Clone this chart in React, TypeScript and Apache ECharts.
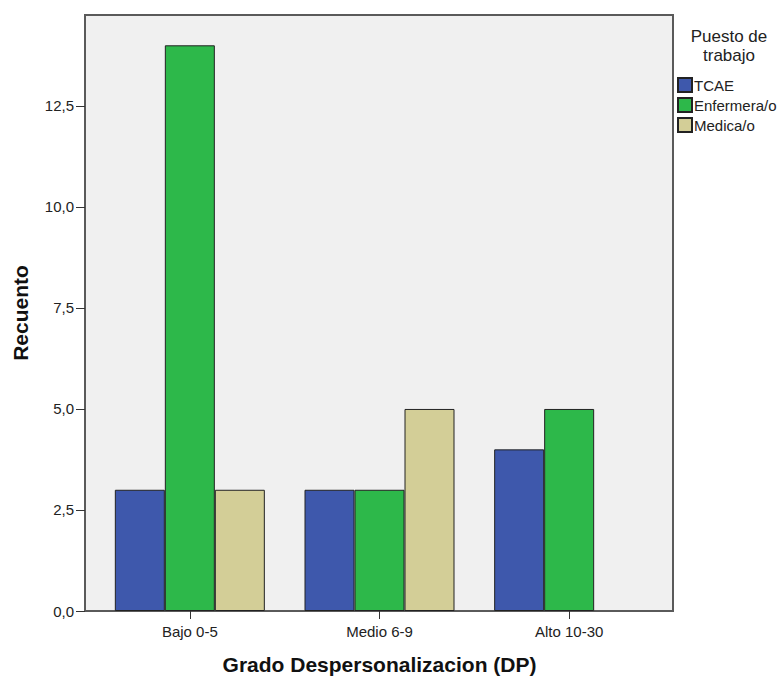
import React, { useEffect, useRef } from "react";
import * as echarts from "echarts";

const categories = ["Bajo 0-5", "Medio 6-9", "Alto 10-30"];
const seriesNames = ["TCAE", "Enfermera/o", "Medica/o"];
const tcae = [3, 3, 4];
const enfermera = [14, 3, 5];
const medica: (number | null)[] = [3, 5, null];
const colors = ["#3e58ac", "#2db84a", "#d3ce97"];

export default function App() {
  const ref = useRef<HTMLDivElement>(null);
  useEffect(() => {
    if (!ref.current) return;
    const chart = echarts.init(ref.current, undefined, { renderer: "svg" });
    const font = "'Liberation Sans', Arial, sans-serif";
    const mk = (name: string, data: (number | null)[], color: string) => ({
      name,
      type: "bar",
      data,
      barWidth: 50,
      barGap: "0%",
      itemStyle: { color, borderColor: "#222", borderWidth: 1 },
      z: 3,
    });
    chart.setOption({
      animation: false,
      textStyle: { fontFamily: font },
      grid: { left: 95, right: 119, top: 15, bottom: 66, outerBoundsMode: "none", containLabel: false },
      graphic: [
        {
          type: "rect",
          z: 0,
          silent: true,
          shape: { x: 85, y: 15, width: 588, height: 596 },
          style: { fill: "#f0f0f0", stroke: "#5a5a5a", lineWidth: 2 },
        },
        {
          type: "text",
          x: 729,
          y: 27,
          style: {
            text: "Puesto de\ntrabajo",
            font: `17px ${font}`,
            fill: "#222",
            align: "center",
            verticalAlign: "top",
            lineHeight: 19,
          },
        },
      ],
      legend: {
        orient: "vertical",
        left: 677,
        top: 77,
        padding: 0,
        itemWidth: 14,
        itemHeight: 14,
        itemGap: 4,
        icon: "rect",
        data: seriesNames,
        textStyle: { fontFamily: font, fontSize: 15, lineHeight: 16, color: "#222", padding: [0, 0, 0, -3] },
      },
      xAxis: {
        type: "category",
        data: categories,
        name: "Grado Despersonalizacion (DP)",
        nameLocation: "middle",
        nameGap: 43,
        nameTextStyle: { fontFamily: font, fontSize: 21, fontWeight: "bold", color: "#111" },
        axisLine: { show: false },
        axisTick: { show: true, alignWithLabel: true, length: 8, lineStyle: { color: "#333" } },
        axisLabel: { fontSize: 15, color: "#222", margin: 13 },
      },
      yAxis: {
        type: "value",
        min: 0,
        max: 14.75,
        interval: 2.5,
        offset: 10,
        name: "Recuento",
        nameLocation: "middle",
        nameGap: 54,
        nameTextStyle: { fontFamily: font, fontSize: 21, fontWeight: "bold", color: "#111" },
        splitLine: { show: false },
        axisLine: { show: true, lineStyle: { color: "#5a5a5a", width: 2 } },
        axisTick: { show: true, length: 9, lineStyle: { color: "#333" } },
        axisLabel: {
          fontSize: 15,
          color: "#222",
          margin: 11,
          showMaxLabel: false,
          formatter: (v: number) => (Math.abs(v / 2.5 - Math.round(v / 2.5)) < 1e-6 ? v.toFixed(1).replace(".", ",") : ""),
        },
      },
      series: [mk(seriesNames[0], tcae, colors[0]), mk(seriesNames[1], enfermera, colors[1]), mk(seriesNames[2], medica, colors[2])],
    });
    return () => chart.dispose();
  }, []);
  return <div ref={ref} style={{ width: 783, height: 677, position: "absolute", left: 0, top: 0, background: "#fff" }} />;
}
